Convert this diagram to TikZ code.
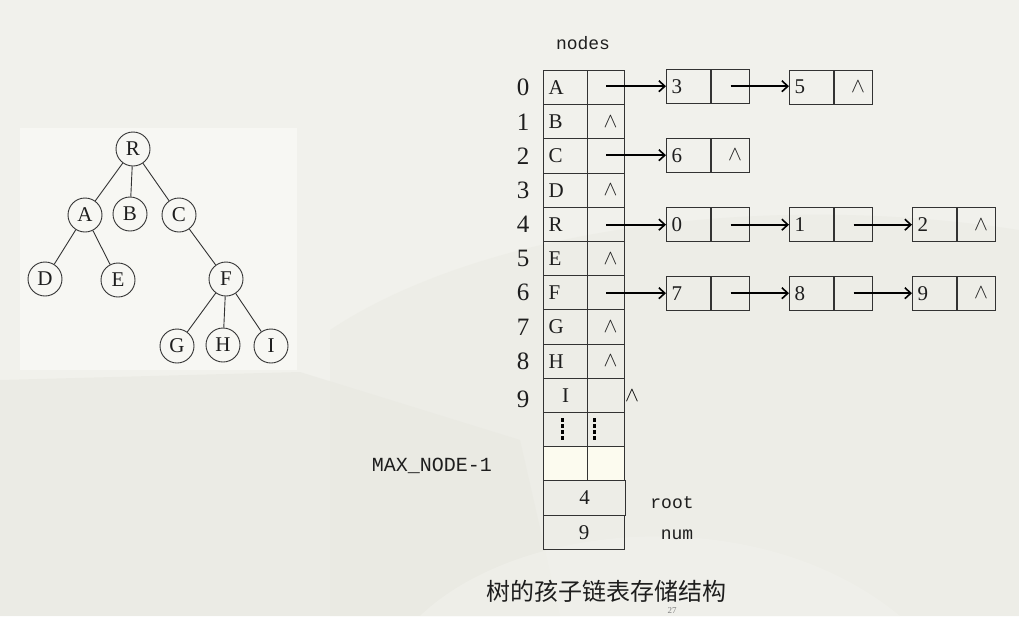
\documentclass[tikz,border=0pt]{standalone}
\usepackage{fontspec}
\setmainfont{Liberation Serif}
\setmonofont{Liberation Mono}
\newfontfamily\cjk{Noto Sans CJK SC}
\usetikzlibrary{arrows.meta,calc}
\definecolor{bgc}{HTML}{F1F1EC}
\definecolor{panel}{HTML}{F7F7F3}
\definecolor{wash}{HTML}{E8E8E1}
\definecolor{wash2}{HTML}{ECECE5}
\definecolor{lc}{HTML}{333333}
\definecolor{tc}{HTML}{1E1E1E}
\definecolor{cream}{HTML}{FCFBEF}
\newcommand\nilsym{{\fontsize{20}{22}\selectfont$\wedge$}}
\tikzset{
  cellL/.style={draw=lc, line width=1pt, anchor=north west, minimum height=34.2pt,
    text width=34pt, inner xsep=5pt, inner ysep=0pt, align=left,
    font=\fontsize{21}{24}\selectfont, text=tc},
  cellR/.style={draw=lc, line width=1pt, anchor=north west, minimum height=34.2pt,
    minimum width=37pt, inner sep=0pt, text=tc},
  idx/.style={font=\fontsize{25}{28}\selectfont, text=tc, inner sep=0pt},
  dcell/.style={draw=lc, line width=1pt, anchor=north west, minimum height=34.4pt,
    text width=34pt, inner xsep=5pt, inner ysep=0pt, align=left,
    font=\fontsize{21}{24}\selectfont, text=tc},
  pcell/.style={draw=lc, line width=1pt, anchor=north west, minimum height=34.4pt,
    minimum width=38pt, inner sep=0pt, text=tc},
  arr/.style={draw=black, line width=1.8pt, -{Straight Barb[length=6pt,width=11pt,line width=1.6pt]}},
  tnode/.style={circle, draw=lc, line width=0.9pt, minimum size=34pt, inner sep=0pt,
    font=\fontsize{21}{24}\selectfont, text=tc},
  tedge/.style={draw=lc, line width=0.9pt},
  lbl/.style={font=\ttfamily\fontsize{18}{22}\selectfont, text=tc, inner sep=0pt},
  dotsl/.style={draw=black, line width=3pt, dash pattern=on 4pt off 2pt}
}
\newcommand\lnode[5]{%
  \node[dcell] (#1a) at (#2,#3) {#4};
  \node[pcell] (#1b) at (#1a.north east) {#5};}
\begin{document}
\begin{tikzpicture}[x=1pt,y=-1pt]
\useasboundingbox (0,0) rectangle (1019,616);
% background
\fill[bgc] (0,0) rectangle (1019,616);
\fill[wash2,opacity=0.7] (330,616) -- (330,330) .. controls (480,230) and (760,190) .. (1019,230) -- (1019,616) -- cycle;
\fill[wash,opacity=0.6] (0,380) -- (300,372) -- (520,440) -- (560,616) -- (0,616) -- cycle;
\fill[bgc,opacity=0.6] (420,616) .. controls (520,520) and (760,500) .. (900,616) -- cycle;
\fill[panel] (20,128) rectangle (297,370);

% tree
\node[tnode] (R) at (133,149) {R};
\node[tnode] (A) at (85,215) {A};
\node[tnode] (B) at (130,214) {B};
\node[tnode] (C) at (179,215) {C};
\node[tnode] (D) at (45,279) {D};
\node[tnode] (E) at (118,280) {E};
\node[tnode] (F) at (226,279) {F};
\node[tnode] (G) at (177,346) {G};
\node[tnode] (H) at (223,345) {H};
\node[tnode] (I) at (271,346) {I};
\draw[tedge] (R) -- (A);
\draw[tedge] (R) -- (B);
\draw[tedge] (R) -- (C);
\draw[tedge] (A) -- (D);
\draw[tedge] (A) -- (E);
\draw[tedge] (C) -- (F);
\draw[tedge] (F) -- (G);
\draw[tedge] (F) -- (H);
\draw[tedge] (F) -- (I);

% table
\node[lbl] (nodes) at (583,43) {nodes};
\foreach \i/\t/\n in {0/A/0,1/B/1,2/C/0,3/D/1,4/R/0,5/E/1,6/F/0,7/G/1,8/H/1}{
  \node[cellL] (L\i) at (543,{70+34.2*\i}) {\t};
  \node[cellR] (P\i) at (587,{70+34.2*\i}) {\ifnum\n=1 \hspace*{9pt}\nilsym\fi};
  \node[idx] (X\i) at (523,{87.6+34.2*\i}) {\i};
}
\node[cellL, align=center] (L9) at (543,377.8) {I};
\node[cellR] (P9) at (587,377.8) {};
\node[idx] (X9) at (523,399.4) {9};
\node[inner sep=0pt] (N9) at (632,396) {\nilsym};
\node[cellL] (L10) at (543,412) {};
\node[cellR] (P10) at (587,412) {};
\draw[dotsl] (562,418) -- (562,441);
\draw[dotsl] (594,418) -- (594,441);
\node[cellL, fill=cream] (L11) at (543,446.2) {};
\node[cellR, fill=cream] (P11) at (587,446.2) {};
\node[lbl, font=\ttfamily\fontsize{20}{24}\selectfont] (maxn) at (432,466) {MAX\_NODE-1};
\node[cellR, minimum width=82pt, font=\fontsize{21}{24}\selectfont] (rootc) at (543,480.4) {4};
\node[cellR, minimum width=81pt, font=\fontsize{21}{24}\selectfont] (numc) at (543,514.6) {9};
\node[lbl] (rootl) at (672,503) {root};
\node[lbl] (numl) at (677,535) {num};

% child lists
\lnode{a3}{666}{68.5}{3}{}
\lnode{a5}{789}{69.5}{5}{\hspace*{9pt}\nilsym}
\lnode{c6}{666}{137.5}{6}{\hspace*{9pt}\nilsym}
\lnode{r0}{666}{207}{0}{}
\lnode{r1}{789}{207}{1}{}
\lnode{r2}{912}{207}{2}{\hspace*{9pt}\nilsym}
\lnode{f7}{666}{275.5}{7}{}
\lnode{f8}{789}{275.5}{8}{}
\lnode{f9}{912}{275.5}{9}{\hspace*{9pt}\nilsym}

\draw[arr] (P0.center |- a3a.west) -- (a3a.west);
\draw[arr] (a3b.center) -- (a3b.center -| a5a.west);
\draw[arr] (P2.center |- c6a.west) -- (c6a.west);
\draw[arr] (P4.center |- r0a.west) -- (r0a.west);
\draw[arr] (r0b.center) -- (r0b.center -| r1a.west);
\draw[arr] (r1b.center) -- (r1b.center -| r2a.west);
\draw[arr] (P6.center |- f7a.west) -- (f7a.west);
\draw[arr] (f7b.center) -- (f7b.center -| f8a.west);
\draw[arr] (f8b.center) -- (f8b.center -| f9a.west);

% caption
\node[font=\cjk\fontsize{24}{28}\selectfont, text=tc] (title) at (606,591) {树的孩子链表存储结构};
\node[font=\fontsize{9}{10}\selectfont, text=gray, inner sep=0pt] (pg) at (672,611) {27};
\end{tikzpicture}
\end{document}
